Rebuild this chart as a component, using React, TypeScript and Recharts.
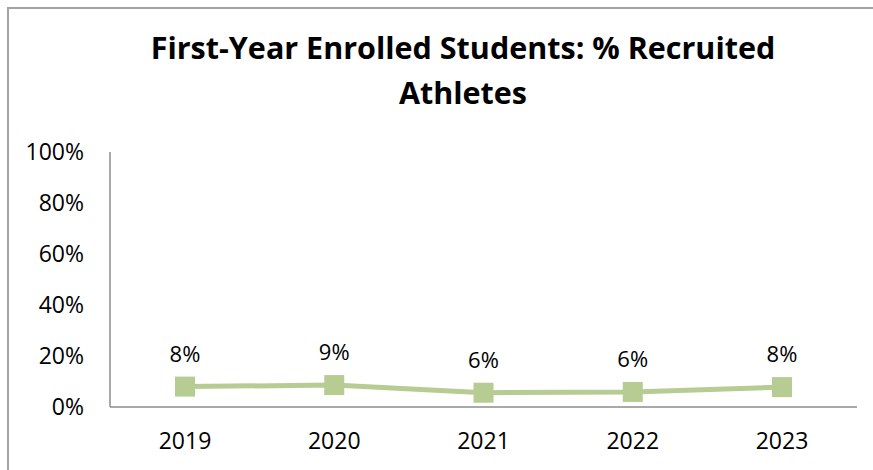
import { CartesianGrid, LabelList, Line, LineChart, XAxis, YAxis } from "recharts";

const years = ["2019", "2020", "2021", "2022", "2023"];
const athletePct = [8.0, 8.6, 5.6, 5.9, 7.8];
const yTicks = [0, 20, 40, 60, 80, 100];

const data = years.map((year, i) => ({ year, value: athletePct[i] }));

const FONT = "'Open Sans', Lato, sans-serif";
const GREEN = "#b6cc93";

function SquareDot(props: any) {
  const { cx, cy } = props;
  if (cx == null || cy == null) return null;
  return <rect x={cx - 10} y={cy - 10} width={20} height={20} fill={GREEN} />;
}

export default function App() {
  return (
    <div style={{ position: "relative", width: 873, height: 470, background: "#fff", fontFamily: FONT, overflow: "hidden" }}>
      <style>{`body{margin:0}`}</style>
      <div
        style={{
          position: "absolute",
          left: 7,
          top: 7,
          width: 880,
          height: 480,
          borderTop: "2px solid #a3a3a3",
          borderLeft: "2px solid #a3a3a3",
        }}
      />
      <div
        style={{
          position: "absolute",
          left: 0,
          width: 926,
          top: 25,
          textAlign: "center",
          fontWeight: 700,
          fontSize: 30.5,
          lineHeight: "45px",
          color: "#000",
        }}
      >
        First-Year Enrolled Students: % Recruited
        <br />
        Athletes
      </div>
      <div style={{ position: "absolute", left: 0, top: 0 }}>
        <LineChart
          width={873}
          height={470}
          data={data}
          margin={{ top: 152, right: 16, bottom: 0, left: 0 }}
        >
          <CartesianGrid horizontal={false} vertical={false} />
          <XAxis
            dataKey="year"
            padding={{ left: 75, right: 75 }}
            height={63}
            tickLine={false}
            tickSize={0}
            tickMargin={26}
            stroke="#8c8c8c"
            strokeWidth={1.5}
            tick={{ fill: "#000", fontSize: 23, fontFamily: FONT }}
          />
          <YAxis
            domain={[0, 100]}
            ticks={yTicks}
            width={110}
            tickLine={false}
            tickSize={0}
            tickMargin={26}
            stroke="#8c8c8c"
            strokeWidth={1.5}
            tickFormatter={(v: number) => `${v}%`}
            tick={{ fill: "#000", fontSize: 23, fontFamily: FONT }}
          />
          <Line
            dataKey="value"
            stroke={GREEN}
            strokeWidth={5}
            dot={<SquareDot />}
            activeDot={false}
            isAnimationActive={false}
          >
            <LabelList
              dataKey="value"
              position="top"
              offset={25}
              fill="#000"
              fontSize={22}
              fontFamily={FONT}
              formatter={(v: any) => `${Math.round(Number(v))}%`}
            />
          </Line>
        </LineChart>
      </div>
    </div>
  );
}
